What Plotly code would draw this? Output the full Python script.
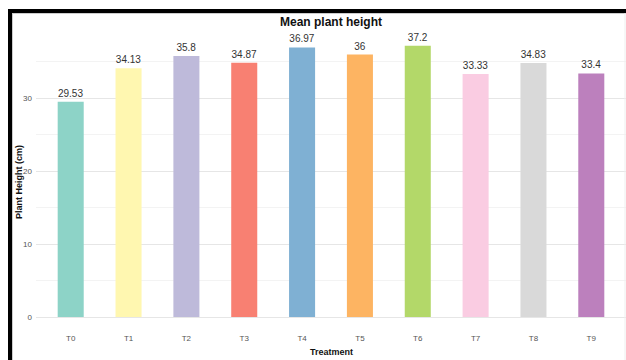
import plotly.graph_objects as go

# Mean plant height per treatment
treatments = ["T0", "T1", "T2", "T3", "T4", "T5", "T6", "T7", "T8", "T9"]
heights = [29.53, 34.13, 35.8, 34.87, 36.97, 36, 37.2, 33.33, 34.83, 33.4]
labels = ["29.53", "34.13", "35.8", "34.87", "36.97", "36", "37.2", "33.33", "34.83", "33.4"]
colors = ["#8DD3C7", "#FFF7B0", "#BEBADA", "#F88072", "#7FB0D3",
          "#FDB462", "#B3D869", "#FACCE2", "#D9D9D9", "#BC80BD"]
y_ticks = [0, 10, 20, 30]

W, H = 626, 360
ML, MR, MT, MB = 36, 0, 32, 30
PW, PH = W - ML - MR, H - MT - MB


def px(x):
    return (x - ML) / PW


def py(y):
    return (H - MB - y) / PH


fig = go.Figure(
    go.Bar(
        x=list(range(len(treatments))),
        y=heights,
        marker=dict(color=colors, line=dict(width=0)),
        width=0.45,
        text=labels,
        textposition="outside",
        textfont=dict(family="Liberation Sans, Arial", size=10, color="#333333"),
        cliponaxis=False,
        hoverinfo="skip",
    )
)

fig.update_layout(
    width=W,
    height=H,
    margin=dict(l=ML, r=MR, t=MT, b=MB),
    paper_bgcolor="white",
    plot_bgcolor="white",
    showlegend=False,
    font=dict(family="Liberation Sans, Arial", color="#555555"),
    title=dict(
        text="<b>Mean plant height</b>",
        x=px(331), xanchor="center", xref="paper",
        y=1 - 22 / H, yanchor="middle",
        font=dict(size=12, color="#111111"),
    ),
    xaxis=dict(
        range=[-0.6, 9.6],
        tickmode="array",
        tickvals=list(range(len(treatments))),
        ticktext=treatments,
        tickfont=dict(size=8, color="#555555"),
        showgrid=False,
        zeroline=False,
        showline=False,
        ticks="",
        ticklabelstandoff=2,
    ),
    yaxis=dict(
        range=[-1.78, 39.09],
        tickmode="array",
        tickvals=y_ticks,
        tickfont=dict(size=8, color="#555555"),
        gridcolor="#E6E6E6",
        gridwidth=1,
        minor=dict(dtick=5, tick0=5, showgrid=True, gridcolor="#F3F3F3", gridwidth=1),
        zeroline=False,
        showline=False,
        ticks="",
        ticklabelstandoff=3,
    ),
    bargap=0.55,
)

# Axis titles
fig.add_annotation(
    text="<b>Treatment</b>", xref="paper", yref="paper",
    x=px(331), y=py(352), xanchor="center", yanchor="middle",
    showarrow=False, font=dict(size=9, color="#111111"),
)
fig.add_annotation(
    text="<b>Plant Height (cm)</b>", xref="paper", yref="paper",
    x=px(19), y=py(182), xanchor="center", yanchor="middle", textangle=-90,
    showarrow=False, font=dict(size=9, color="#111111"),
)

# Frame around the figure: thick black left and top edges, thin grey inner line
shapes = [
    dict(type="rect", xref="paper", yref="paper", x0=px(8), x1=px(12), y0=py(360), y1=py(9),
         fillcolor="black", line=dict(width=0), layer="above"),
    dict(type="rect", xref="paper", yref="paper", x0=px(8), x1=px(626), y0=py(13), y1=py(9),
         fillcolor="black", line=dict(width=0), layer="above"),
    dict(type="line", xref="paper", yref="paper", x0=px(12.5), x1=px(12.5), y0=py(360), y1=py(13),
         line=dict(color="#CCCCCC", width=1), layer="above"),
    dict(type="line", xref="paper", yref="paper", x0=px(12), x1=px(626), y0=py(13.5), y1=py(13.5),
         line=dict(color="#CCCCCC", width=1), layer="above"),
    dict(type="line", xref="paper", yref="paper", x0=px(625), x1=px(625), y0=py(360), y1=py(13),
         line=dict(color="#EEEEEE", width=1), layer="above"),
]
fig.update_layout(shapes=shapes)

fig.write_html("out.html")
